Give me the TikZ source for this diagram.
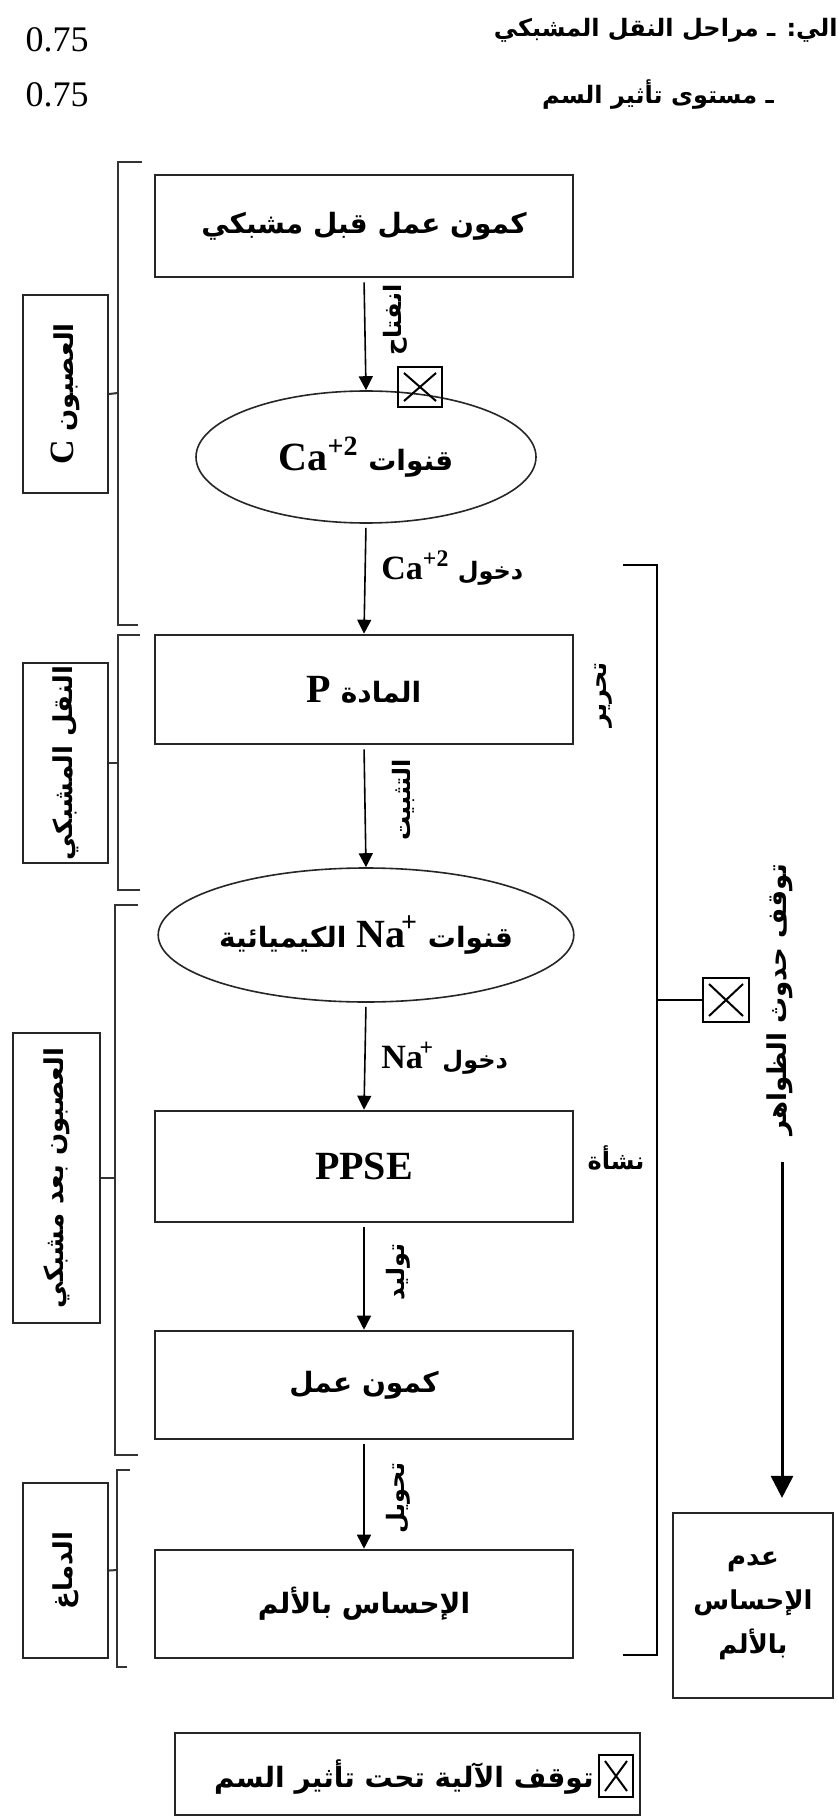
\documentclass[tikz,border=0pt]{standalone}
\usepackage{fontspec}
\setmainfont{Liberation Serif}
\newfontfamily\arfont[Script=Arabic]{DejaVu Sans}
\TeXXeTstate=1
\usetikzlibrary{arrows.meta,shapes.geometric}
\newcommand\AR[1]{{\arfont\bfseries\beginR #1\endR}}
\newcommand\ARn[1]{{\arfont\beginR #1\endR}}
\newcommand\LT[1]{\beginL{\rmfamily\bfseries #1}\endL}
\tikzset{
  ink/.style={draw=black!85},
  mainbox/.style={ink, line width=1.3pt, minimum width=209pt, inner sep=0pt, font=\fontsize{14}{17}\selectfont},
  chan/.style={ink, ellipse, line width=0.8pt, minimum width=170pt, minimum height=66pt, inner sep=0pt, font=\fontsize{14}{17}\selectfont},
  flow/.style={-{Triangle[length=7pt,width=7pt]}, line width=0.8pt, shorten <=2pt},
  bigflow/.style={-{Triangle[length=11pt,width=11pt]}, line width=1.5pt, shorten >=7pt},
  lbl/.style={ink, line width=1.1pt, inner sep=0pt, rotate=90, font=\fontsize{13}{16}\selectfont},
  lbr/.style={draw=black!80, line width=1pt},
  rbr/.style={draw=black, line width=1.4pt},
  edgetxt/.style={font=\fontsize{12}{14}\selectfont, inner sep=0pt},
  vtxt/.style={rotate=90, font=\fontsize{12}{14}\selectfont, inner sep=0pt},
  xbox/.style={draw=black, line width=1.2pt, inner sep=0pt,
    path picture={\draw[line width=1pt]
      ([shift={(3pt,-3pt)}]path picture bounding box.north west) --
      ([shift={(-3pt,3pt)}]path picture bounding box.south east)
      ([shift={(-3pt,-3pt)}]path picture bounding box.north east) --
      ([shift={(3pt,3pt)}]path picture bounding box.south west);}}
}
\begin{document}
\begin{tikzpicture}[x=0.5pt,y=-0.5pt]
\useasboundingbox (0,0) rectangle (837,1818);
\fill[white] (0,0) rectangle (837,1818);

% header
\node[font=\fontsize{18}{22}\selectfont, inner sep=0pt] (s1) at (57,40) {0.75};
\node[font=\fontsize{18}{22}\selectfont, inner sep=0pt] (s2) at (57,95) {0.75};
\node[anchor=east, font=\fontsize{12}{15}\selectfont, inner sep=0pt] (h1) at (838,30) {\AR{الي: ـ مراحل النقل المشبكي}};
\node[font=\fontsize{12}{15}\selectfont, inner sep=0pt] (h2) at (658,95) {\AR{ـ مستوى تأثير السم}};

% main chain
\node[mainbox, minimum height=51pt] (b1) at (364,226) {\AR{كمون عمل قبل مشبكي}};
\node[chan] (eCa) at (366,457) {\AR{قنوات \LT{\fontsize{20}{24}\selectfont Ca\textsuperscript{+2}}}};
\node[mainbox, minimum height=54.5pt] (bP) at (364,689.5) {\AR{المادة \LT{\fontsize{20}{24}\selectfont P}}};
\node[chan, minimum height=67pt] (eNa) at (366,935) {\AR{قنوات \LT{\fontsize{20}{24}\selectfont Na\kern-0.1em\textsuperscript{+}} الكيميائية}};
\node[mainbox, minimum height=55.5pt] (bE) at (364,1166.5) {\LT{\fontsize{20}{24}\selectfont PPSE}};
\node[mainbox, minimum height=54pt] (bA) at (364,1385) {\AR{كمون عمل}};
\node[mainbox, minimum height=54pt] (bS) at (364,1604) {\AR{الإحساس بالألم}};

\draw[flow] (b1.south) -- (eCa.north);
\draw[flow] (eCa.south) -- (bP.north);
\draw[flow] (bP.south) -- (eNa.north);
\draw[flow] (eNa.south) -- (bE.north);
\draw[flow] (bE.south) -- (bA.north);
\draw[flow] (bA.south) -- (bS.north);

% arrow labels
\node[vtxt] (tOpen) at (395,320) {\AR{انفتاح}};
\node[xbox, minimum width=22pt, minimum height=20pt] (x1) at (420,387) {};
\node[edgetxt, anchor=west] (tCa) at (381,568) {\AR{دخول \LT{\fontsize{17}{20}\selectfont Ca\textsuperscript{+2}}}};
\node[vtxt] (tFix) at (403,800) {\AR{التثبيت}};
\node[edgetxt, anchor=west] (tNa) at (381,1058) {\AR{دخول \LT{\fontsize{17}{20}\selectfont Na\kern-0.1em\textsuperscript{+}}}};
\node[vtxt] (tGen) at (398,1272) {\AR{توليد}};
\node[vtxt] (tConv) at (398,1498) {\AR{تحويل}};
\node[vtxt] (tRel) at (604,695) {\AR{تحرير}};
\node[edgetxt] (tOri) at (616,1158) {\AR{نشأة}};

% left brackets and labels
\node[lbl, minimum width=99pt, minimum height=42.5pt] (lb1) at (65.5,394) {\AR{العصبون \LT{\fontsize{17}{20}\selectfont C}}};
\node[lbl, minimum width=100pt, minimum height=42.5pt] (lb2) at (65.5,763) {\AR{النقل المشبكي}};
\node[lbl, minimum width=145pt, minimum height=43.5pt] (lb3) at (56.5,1178) {\AR{العصبون بعد مشبكي}};
\node[lbl, minimum width=87.5pt, minimum height=42.5pt] (lb4) at (65.5,1570.5) {\AR{الدماغ}};

\draw[lbr] (142,162) -- (118,162) -- (118,625) -- (138,625);
\coordinate (k1) at (118,393);
\draw[lbr] (k1) -- (lb1.south);
\draw[lbr] (140,635) -- (118,635) -- (118,890) -- (140,890);
\coordinate (k2) at (118,763);
\draw[lbr] (k2) -- (lb2.south);
\draw[lbr] (138,905) -- (115,905) -- (115,1455) -- (138,1455);
\coordinate (k3) at (115,1178);
\draw[lbr] (k3) -- (lb3.south);
\draw[lbr] (130,1470) -- (117,1470) -- (117,1667) -- (127,1667);
\coordinate (k4) at (117,1570);
\draw[lbr] (k4) -- (lb4.south);

% right bracket
\draw[rbr] (623,565) -- (657,565) -- (657,1655) -- (623,1655);
\node[xbox, minimum width=23pt, minimum height=22pt] (x2) at (726,1000) {};
\coordinate (rt) at (657,1000);
\draw[rbr, line width=1.1pt] (rt) -- (x2.west);
\node[rotate=90, font=\fontsize{13}{16}\selectfont, inner sep=0pt] (stop) at (780,1000) {\AR{توقف حدوث الظواهر}};
\node[ink, line width=1.1pt, minimum width=80pt, minimum height=92.5pt, align=center, inner sep=0pt, font=\fontsize{13}{22}\selectfont] (noP) at (753,1605.5) {\AR{عدم}\\\AR{الإحساس}\\\AR{بالألم}};
\coordinate (bigS) at (782,1162);
\draw[bigflow] (bigS) -- (bigS |- noP.north);

% legend
\node[ink, line width=1.1pt, minimum width=232.5pt, minimum height=41pt, inner sep=0pt] (leg) at (407.5,1774) {};
\node[xbox, minimum width=17pt, minimum height=21pt] (x3) at (616,1776) {};
\node[anchor=east, inner sep=0pt, font=\fontsize{14}{17}\selectfont] (legT) at (594,1777) {\AR{توقف الآلية تحت تأثير السم}};
\end{tikzpicture}
\end{document}
